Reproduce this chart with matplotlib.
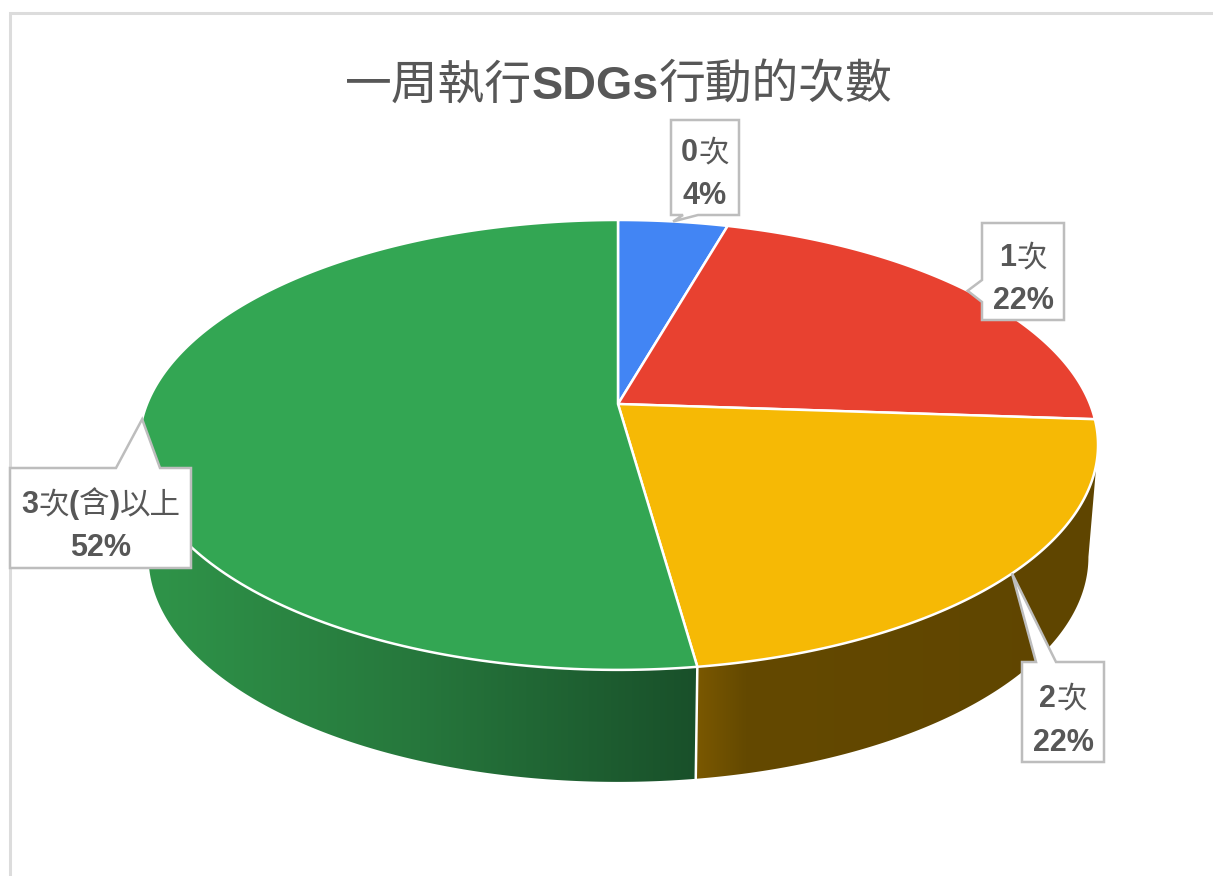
"""
plot.py
-------
3D style pie chart, one week of SDGs actions.
"""

import numpy as np
import matplotlib
matplotlib.use("Agg")
import matplotlib.pyplot as plt
from matplotlib.colors import to_rgb
from matplotlib.patches import Polygon

# ── data ──────────────────────────────────────────────────────────────────────
TITLE_RUNS = [("一周執行", False), ("SDGs", True), ("行動的次數", False)]
CATEGORIES = ["0次", "1次", "2次", "3次(含)以上"]
VALUES = [4.4, 21.7, 21.7, 52.2]
PERCENT_LABELS = ["4%", "22%", "22%", "52%"]

# ── style ─────────────────────────────────────────────────────────────────────
W, H = 1213, 876
TEXT = "#575757"
BOX_EDGE = "#bdbdbd"
FRAME = "#dcdcdc"
TOP_COLORS = ["#4285f4", "#e84130", "#f6b905", "#33a653"]
# wall shading, left to right across the picture
WALL_GREEN = [(150, "#2f9449"), (420, "#26773c"), (695, "#19502a")]
WALL_YELLOW = [(697, "#7a5800"), (745, "#644900"), (1100, "#5f4500")]

CX, CY = 618, 404       # apex of the pie on the picture
RX_RIGHT, RX_LEFT = 472, 471
RY = 217.5              # disc radius, vertical, before perspective
K = 0.182               # perspective strength
DEPTH = 112
BOTTOM_SCALE = 0.98

# callout boxes: left, right, top, bottom, pointer base
BOXES = [
    dict(l=671, r=739, t=120, b=215, base=[(698, 215), (683, 215)], text_x=705, y1=161, y2=204),
    dict(l=982, r=1064, t=223, b=320, base=[(982, 280), (982, 302)], text_x=1023, y1=266, y2=309),
    dict(l=1022, r=1104, t=662, b=762, base=[(1056, 662), (1036, 662)], text_x=1063, y1=707, y2=751),
    dict(l=10, r=191, t=468, b=568, base=[(160, 468), (116, 468)], text_x=101, y1=513, y2=556),
]


def project(theta):
    """Angle (radians, clockwise from top) to offsets from the pie apex."""
    u, v = np.sin(theta), np.cos(theta)
    d = 1 + K * v
    rx = np.where(u >= 0, RX_RIGHT, RX_LEFT)
    return rx * u / d, -RY * v / d


def draw_wall(ax, start, end, stops):
    """Side of one slice, a horizontal gradient clipped to the wall shape."""
    thetas = np.linspace(start, end, 300)
    px, py = project(thetas)
    top = np.column_stack([CX + px, CY + py])
    bottom = np.column_stack([CX + BOTTOM_SCALE * px, CY + py + DEPTH])
    outline = np.vstack([top, bottom[::-1]])
    patch = Polygon(outline, closed=True, fc="none", ec="none", transform=ax.transData)
    ax.add_patch(patch)

    x0, x1 = outline[:, 0].min(), outline[:, 0].max()
    y0, y1 = outline[:, 1].min(), outline[:, 1].max()
    xs = np.linspace(x0, x1, 600)
    rgb = np.array([to_rgb(s[1]) for s in stops])
    stop_x = [s[0] for s in stops]
    grad = np.stack([np.interp(xs, stop_x, rgb[:, i]) for i in range(3)], axis=-1)[None, :, :]
    im = ax.imshow(grad, extent=[x0, x1, y1, y0], aspect="auto", zorder=2, interpolation="bilinear")
    im.set_clip_path(patch)


def draw_runs(ax, renderer, xc, y, runs, size, zorder=8):
    """Centered line of text, Latin parts bold and CJK parts regular."""
    items = []
    total = 0
    for s, bold in runs:
        t = ax.text(0, y, s, fontsize=size, color=TEXT, va="baseline", ha="left", zorder=zorder,
                    family=["Liberation Sans", "Noto Sans CJK TC"] if bold else ["Noto Sans CJK TC"],
                    fontweight="bold" if bold else "normal")
        w = renderer.get_text_width_height_descent(s, t.get_fontproperties(), False)[0]
        items.append((t, w))
        total += w
    x = xc - total / 2
    for t, w in items:
        t.set_x(x)
        x += w


def split_runs(label):
    """Digits, brackets and percent signs go bold, the rest stays regular."""
    runs = []
    for ch in label:
        bold = ch in "0123456789()%"
        if runs and runs[-1][1] == bold:
            runs[-1] = (runs[-1][0] + ch, bold)
        else:
            runs.append((ch, bold))
    return runs


fig = plt.figure(figsize=(W / 100, H / 100), dpi=100, facecolor="white")
ax = fig.add_axes([0, 0, 1, 1])
ax.axis("off")
renderer = fig.canvas.get_renderer()

# outer frame, only left and top show
ax.plot([10, 10, W], [H, 13, 13], color=FRAME, lw=2.2, zorder=1, solid_joinstyle="miter")

edges = np.concatenate([[0], np.cumsum(VALUES)]) / sum(VALUES) * 2 * np.pi

# walls: only the two slices on the near side show, from rim extreme to rim extreme
extreme = np.arccos(-K)
draw_wall(ax, extreme, edges[3], WALL_YELLOW)
draw_wall(ax, edges[3], 2 * np.pi - extreme, WALL_GREEN)

ax.set_xlim(0, W)
ax.set_ylim(H, 0)
ax.set_aspect("auto")

# white seam between the two walls
sx, sy = project(edges[3])
ax.plot([CX + sx, CX + BOTTOM_SCALE * sx], [CY + sy, CY + sy + DEPTH], color="white", lw=1.8, zorder=3)

# top face
for i, color in enumerate(TOP_COLORS):
    thetas = np.linspace(edges[i], edges[i + 1], 200)
    px, py = project(thetas)
    pts = np.column_stack([np.r_[CX, CX + px], np.r_[CY, CY + py]])
    ax.add_patch(Polygon(pts, closed=True, fc=color, ec="white", lw=1.8, joinstyle="round", zorder=4))

# callouts, pointer tip sits on the rim at the middle of each slice
mids = (edges[:-1] + edges[1:]) / 2
for i, box in enumerate(BOXES):
    px, py = project(mids[i])
    tip = (CX + px, CY + py)
    l, r, t, b = box["l"], box["r"], box["t"], box["b"]
    if i == 0:
        pts = [(l, t), (r, t), (r, b), box["base"][0], tip, box["base"][1], (l, b)]
    elif i == 1:
        pts = [(l, t), (r, t), (r, b), (l, b), box["base"][1], tip, box["base"][0]]
    else:
        pts = [(l, t), box["base"][1], tip, box["base"][0], (r, t), (r, b), (l, b)]
    ax.add_patch(Polygon(pts, closed=True, fc="white", ec=BOX_EDGE, lw=1.8, joinstyle="miter", zorder=6))
    draw_runs(ax, renderer, box["text_x"], box["y1"], split_runs(CATEGORIES[i]), 22)
    draw_runs(ax, renderer, box["text_x"], box["y2"], split_runs(PERCENT_LABELS[i]), 22)

draw_runs(ax, renderer, 619, 99, TITLE_RUNS, 33.7)

fig.savefig("out.png", dpi=100, facecolor="white")
